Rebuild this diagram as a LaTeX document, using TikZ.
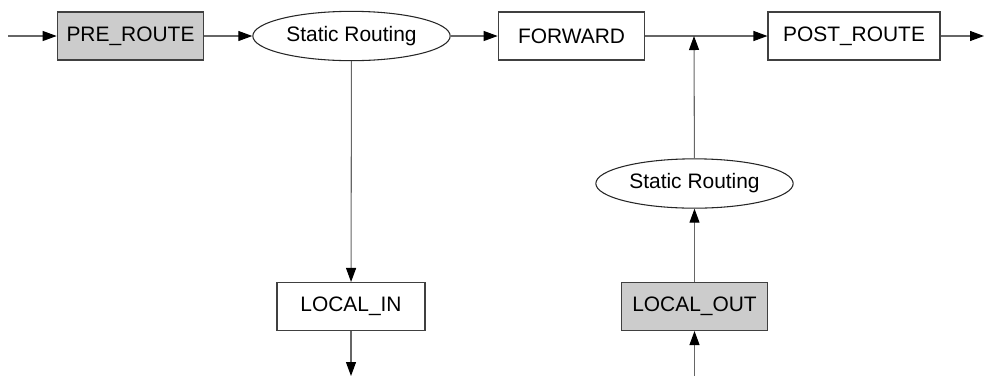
\documentclass[tikz,border=0pt]{standalone}
\usepackage{fontspec}
\setmainfont{Liberation Sans}
\usetikzlibrary{arrows.meta,shapes.geometric}
\tikzset{
    boite/.style={draw=black!75, line width=0.8pt, minimum width=110pt, minimum height=36pt, inner sep=0pt},
    grise/.style={boite, fill=black!20},
    bulle/.style={ellipse, draw=black!85, line width=0.8pt, minimum width=148pt, minimum height=37pt, inner sep=0pt},
    fleche/.style={draw=black!60, line width=0.8pt, -{Triangle[length=10.5pt,width=7.5pt,color=black]}},
  }
\begin{document}
\begin{tikzpicture}[x=0.75pt,y=-0.75pt,font=\fontsize{15.7}{18}\selectfont]
  \useasboundingbox (0,0) rectangle (984,376);

  %ligne du haut
  \coordinate (entree) at (8,36);
  \node[grise] (pre) at (130.5,36) {PRE\_ROUTE};
  \node[bulle] (sr1) at (351.5,36) {Static Routing};
  \node[boite] (fwd) at (571.5,36) {FORWARD};
  \coordinate (J) at (694,36);
  \node[boite, minimum width=129pt] (post) at (854,36) {POST\_ROUTE};
  \coordinate (sortie) at (984,36);
  \draw[fleche] (entree) -- (pre);
  \draw[fleche] (pre) -- (sr1);
  \draw[fleche] (sr1) -- (fwd);
  \draw[fleche] (fwd) -- (post);
  \draw[fleche] (post) -- (sortie);

  %LOCAL_IN
  \node[boite, minimum width=111pt] (lin) at (351,306.5) {LOCAL\_IN};
  \coordinate (basIn) at (351,376);
  \draw[fleche] (sr1) -- (lin);
  \draw[fleche] (lin) -- (basIn);

  %LOCAL_OUT
  \node[grise] (lout) at (694.5,306.5) {LOCAL\_OUT};
  \node[bulle] (sr2) at (694.5,183.5) {Static Routing};
  \coordinate (basOut) at (694.5,376);
  \draw[fleche] (basOut) -- (lout);
  \draw[fleche] (lout) -- (sr2);
  \draw[fleche] (sr2) -- (J);
\end{tikzpicture}
\end{document}
